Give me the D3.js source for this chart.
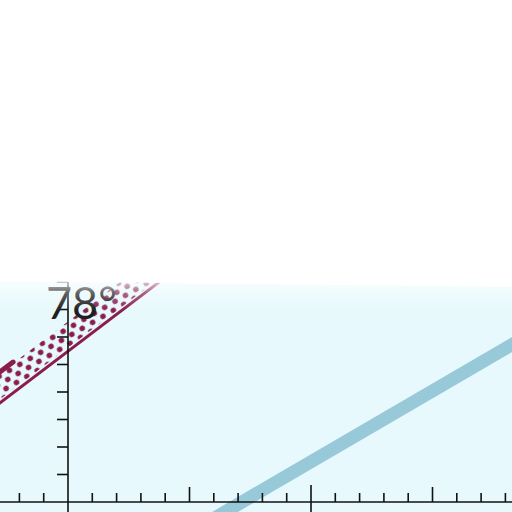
<!DOCTYPE html>
<html><head><meta charset="utf-8">
<script src="https://cdn.jsdelivr.net/npm/d3@7"></script>
<style>html,body{margin:0;padding:0;background:#fff;}svg{display:block;}</style>
</head><body>
<script>
// ---- data ----
const xTicks = d3.range(-2, 19);          // minor ticks along the horizontal axis
const xMajor = [-5, 5, 15];               // taller ticks
const xCross = [0, 10];                   // vertical axis lines
const yTicks = [1, 2, 3, 4, 5, 6, 7, 8];
const labelText = "78°";
const maroonX = [-3, 4.6];
const maroonY = [3.47, 8.57];
const bandLow = [3.6, 8.7];
const bandHigh = [4.55, 9.65];
const stubX = [-3, -2.26];
const stubY = [4.6, 5.09];
const blueX = [6, 19];
const blueY = [-0.6, 6.1];

const W = 512, H = 512;
const x = d3.scaleLinear().domain([0, 10]).range([68, 311]);
const y = d3.scaleLinear().domain([0, 10]).range([502, 227]);

const svg = d3.select("body").append("svg").attr("width", W).attr("height", H);
const defs = svg.append("defs");

const pat = defs.append("pattern").attr("id", "dots")
  .attr("patternUnits", "userSpaceOnUse").attr("width", 12).attr("height", 14)
  .attr("patternTransform", "rotate(-30)");
pat.append("circle").attr("cx", 3).attr("cy", 3.5).attr("r", 2.8).attr("fill", "#8a1c4e");
pat.append("circle").attr("cx", 9).attr("cy", 10.5).attr("r", 2.8).attr("fill", "#8a1c4e");

const fade = defs.append("linearGradient").attr("id", "fade")
  .attr("x1", 0).attr("y1", 0).attr("x2", 0).attr("y2", 1);
fade.append("stop").attr("offset", "0%").attr("stop-color", "#fff").attr("stop-opacity", 0.75);
fade.append("stop").attr("offset", "40%").attr("stop-color", "#fff").attr("stop-opacity", 0.3);
fade.append("stop").attr("offset", "100%").attr("stop-color", "#fff").attr("stop-opacity", 0);

// background
svg.append("rect").attr("width", W).attr("height", H).attr("fill", "#e7f9fc");

// blue line
const line = d3.line().x(d => x(d[0])).y(d => y(d[1]));
svg.append("path").datum(d3.zip(blueX, blueY)).attr("d", line)
  .attr("stroke", "#97c9d8").attr("stroke-width", 13).attr("fill", "none");

// dotted band
const area = d3.area().x(d => x(d[0])).y0(d => y(d[1])).y1(d => y(d[2]));
svg.append("path").datum(d3.zip(maroonX, bandLow, bandHigh)).attr("d", area)
  .attr("fill", "url(#dots)");

// maroon lines
svg.append("path").datum(d3.zip(maroonX, maroonY)).attr("d", line)
  .attr("stroke", "#8a1c4e").attr("stroke-width", 3).attr("fill", "none");
svg.append("path").datum(d3.zip(stubX, stubY)).attr("d", line)
  .attr("stroke", "#8a1c4e").attr("stroke-width", 5).attr("fill", "none").attr("stroke-linecap", "round");

// axes
const ax = svg.append("g").attr("stroke", "#111").attr("stroke-width", 1.6).attr("fill", "none");
ax.append("line").attr("x1", 0).attr("x2", W).attr("y1", y(0)).attr("y2", y(0));
ax.append("line").attr("x1", x(0)).attr("x2", x(0)).attr("y1", 270).attr("y2", H);
ax.append("line").attr("x1", x(10)).attr("x2", x(10)).attr("y1", y(0) - 17).attr("y2", H);
ax.selectAll(".xt").data(xTicks.filter(d => !xCross.includes(d))).join("line")
  .attr("x1", d => x(d)).attr("x2", d => x(d))
  .attr("y1", y(0)).attr("y2", d => y(0) - (xMajor.includes(d) ? 15 : 9));
ax.selectAll(".yt").data(yTicks).join("line")
  .attr("x1", x(0) - 11).attr("x2", x(0))
  .attr("y1", d => y(d)).attr("y2", d => y(d));

// label
svg.append("text").attr("x", 46).attr("y", 319).text(labelText)
  .attr("font-family", "Lato, 'Open Sans', sans-serif").attr("font-weight", 400)
  .attr("font-size", 45).attr("fill", "#1e1e1e");

// top white cover
svg.append("path").attr("d", `M0,0H${W}V287L0,281Z`).attr("fill", "#fff");
svg.append("rect").attr("x", 0).attr("y", 281).attr("width", W).attr("height", 30).attr("fill", "url(#fade)");
</script>
</body></html>
